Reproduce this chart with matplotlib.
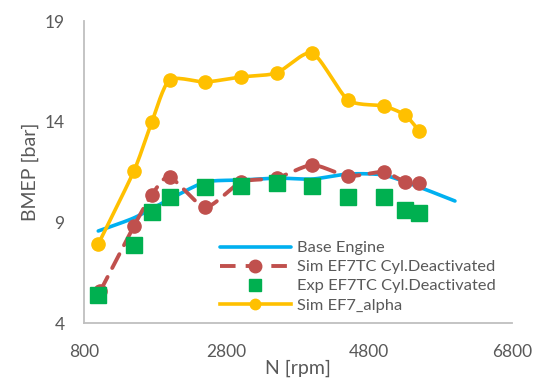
import numpy as np
import matplotlib
matplotlib.use("Agg")
import matplotlib.pyplot as plt

plt.rcParams['font.family'] = ['Lato', 'DejaVu Sans']

# Data
rpm_base = [1000, 1500, 2000, 2500, 3000, 3500, 4000, 4500, 5000, 5500, 6000]
bmep_base = [8.57, 9.22, 10.15, 11.0, 11.1, 11.2, 11.15, 11.4, 11.35, 10.75, 10.06]

rpm_sim_cd = [1030, 1500, 1750, 2000, 2500, 3000, 3500, 4000, 4500, 5000, 5300, 5500]
bmep_sim_cd = [5.6, 8.82, 10.36, 11.25, 9.76, 11.0, 11.2, 11.85, 11.3, 11.5, 11.0, 10.95]

rpm_exp_cd = [1000, 1500, 1750, 2000, 2500, 3000, 3500, 4000, 4500, 5000, 5300, 5500]
bmep_exp_cd = [5.39, 7.87, 9.51, 10.26, 10.76, 10.81, 10.95, 10.81, 10.26, 10.26, 9.61, 9.46]

rpm_alpha = [1000, 1500, 1750, 2000, 2500, 3000, 3500, 4000, 4500, 5000, 5300, 5500]
bmep_alpha = [7.92, 11.55, 13.98, 16.07, 15.97, 16.22, 16.42, 17.41, 15.08, 14.78, 14.33, 13.54]

labels = ['Base Engine', 'Sim EF7TC Cyl.Deactivated', 'Exp EF7TC Cyl.Deactivated', 'Sim EF7_alpha']

text_color = '#595959'
axis_color = '#BFBFBF'


def smooth(x, y, n=16, t=0.35):
    # Catmull-Rom style curve through the points (like Excel's smoothed line)
    x = np.asarray(x, float)
    y = np.asarray(y, float)
    px = np.concatenate([[2 * x[0] - x[1]], x, [2 * x[-1] - x[-2]]])
    py = np.concatenate([[2 * y[0] - y[1]], y, [2 * y[-1] - y[-2]]])
    xs, ys = [], []
    for i in range(1, len(px) - 2):
        s = np.linspace(0, 1, n, endpoint=False)
        h1 = 2 * s**3 - 3 * s**2 + 1
        h2 = -2 * s**3 + 3 * s**2
        h3 = s**3 - 2 * s**2 + s
        h4 = s**3 - s**2
        mx1 = t * (px[i + 1] - px[i - 1]); mx2 = t * (px[i + 2] - px[i])
        my1 = t * (py[i + 1] - py[i - 1]); my2 = t * (py[i + 2] - py[i])
        xs.append(h1 * px[i] + h2 * px[i + 1] + h3 * mx1 + h4 * mx2)
        ys.append(h1 * py[i] + h2 * py[i + 1] + h3 * my1 + h4 * my2)
    xs.append([x[-1]]); ys.append([y[-1]])
    return np.concatenate(xs), np.concatenate(ys)


fig = plt.figure(figsize=(5.36, 3.83), dpi=100)
ax = fig.add_axes([84 / 536, 1 - 323 / 383, 428 / 536, 302 / 383])

# Base engine
sx, sy = smooth(rpm_base, bmep_base)
ax.plot(sx, sy, color='#00B0F0', lw=2.6, solid_capstyle='round', zorder=2)
h_base, = ax.plot([], [], color='#00B0F0', lw=2.6, solid_capstyle='round')

# Sim cylinder deactivated
sx, sy = smooth(rpm_sim_cd, bmep_sim_cd)
ax.plot(sx, sy, color='#C0504D', lw=2.8, dashes=(4, 2.6), dash_capstyle='round', zorder=3)
ax.plot(rpm_sim_cd, bmep_sim_cd, 'o', color='#C0504D', ms=9.5, zorder=3)
h_sim, = ax.plot([], [], color='#C0504D', lw=2.8, dashes=(4, 2.6), marker='o', ms=9)

# Exp cylinder deactivated
ax.plot(rpm_exp_cd, bmep_exp_cd, 's', color='#00B050', ms=12, ls='none', zorder=4)
h_exp, = ax.plot([], [], 's', color='#00B050', ms=8, ls='none')

# Sim alpha
sx, sy = smooth(rpm_alpha, bmep_alpha)
ax.plot(sx, sy, color='#FFC000', lw=2.6, solid_capstyle='round', zorder=5)
ax.plot(rpm_alpha, bmep_alpha, 'o', color='#FFC000', ms=9.5, zorder=5)
h_alpha, = ax.plot([], [], color='#FFC000', lw=2.6, marker='o', ms=7.5)

ax.set_xlim(800, 6800)
ax.set_ylim(4, 19)
ax.set_xticks(np.arange(800, 6801, 2000))
ax.set_yticks(np.arange(4, 20, 5))

for side in ['top', 'right']:
    ax.spines[side].set_visible(False)
for side in ['left', 'bottom']:
    ax.spines[side].set_color(axis_color)
    ax.spines[side].set_linewidth(1.3)
ax.tick_params(length=0, labelsize=12.5, colors=text_color)
ax.tick_params(axis='x', pad=15)
ax.tick_params(axis='y', pad=14)

ax.set_xlabel('N [rpm]', fontsize=14, color=text_color, labelpad=0)
ax.set_ylabel('BMEP [bar]', fontsize=14, color=text_color, labelpad=4)

leg = ax.legend([h_base, h_sim, h_exp, h_alpha], labels, loc='upper left',
                bbox_to_anchor=(0.318, 0.272), frameon=False, fontsize=11.8,
                handlelength=4.3, handletextpad=0.4, labelspacing=0.28,
                borderpad=0, borderaxespad=0)
for t in leg.get_texts():
    t.set_color(text_color)

fig.savefig('out.png', dpi=100)
